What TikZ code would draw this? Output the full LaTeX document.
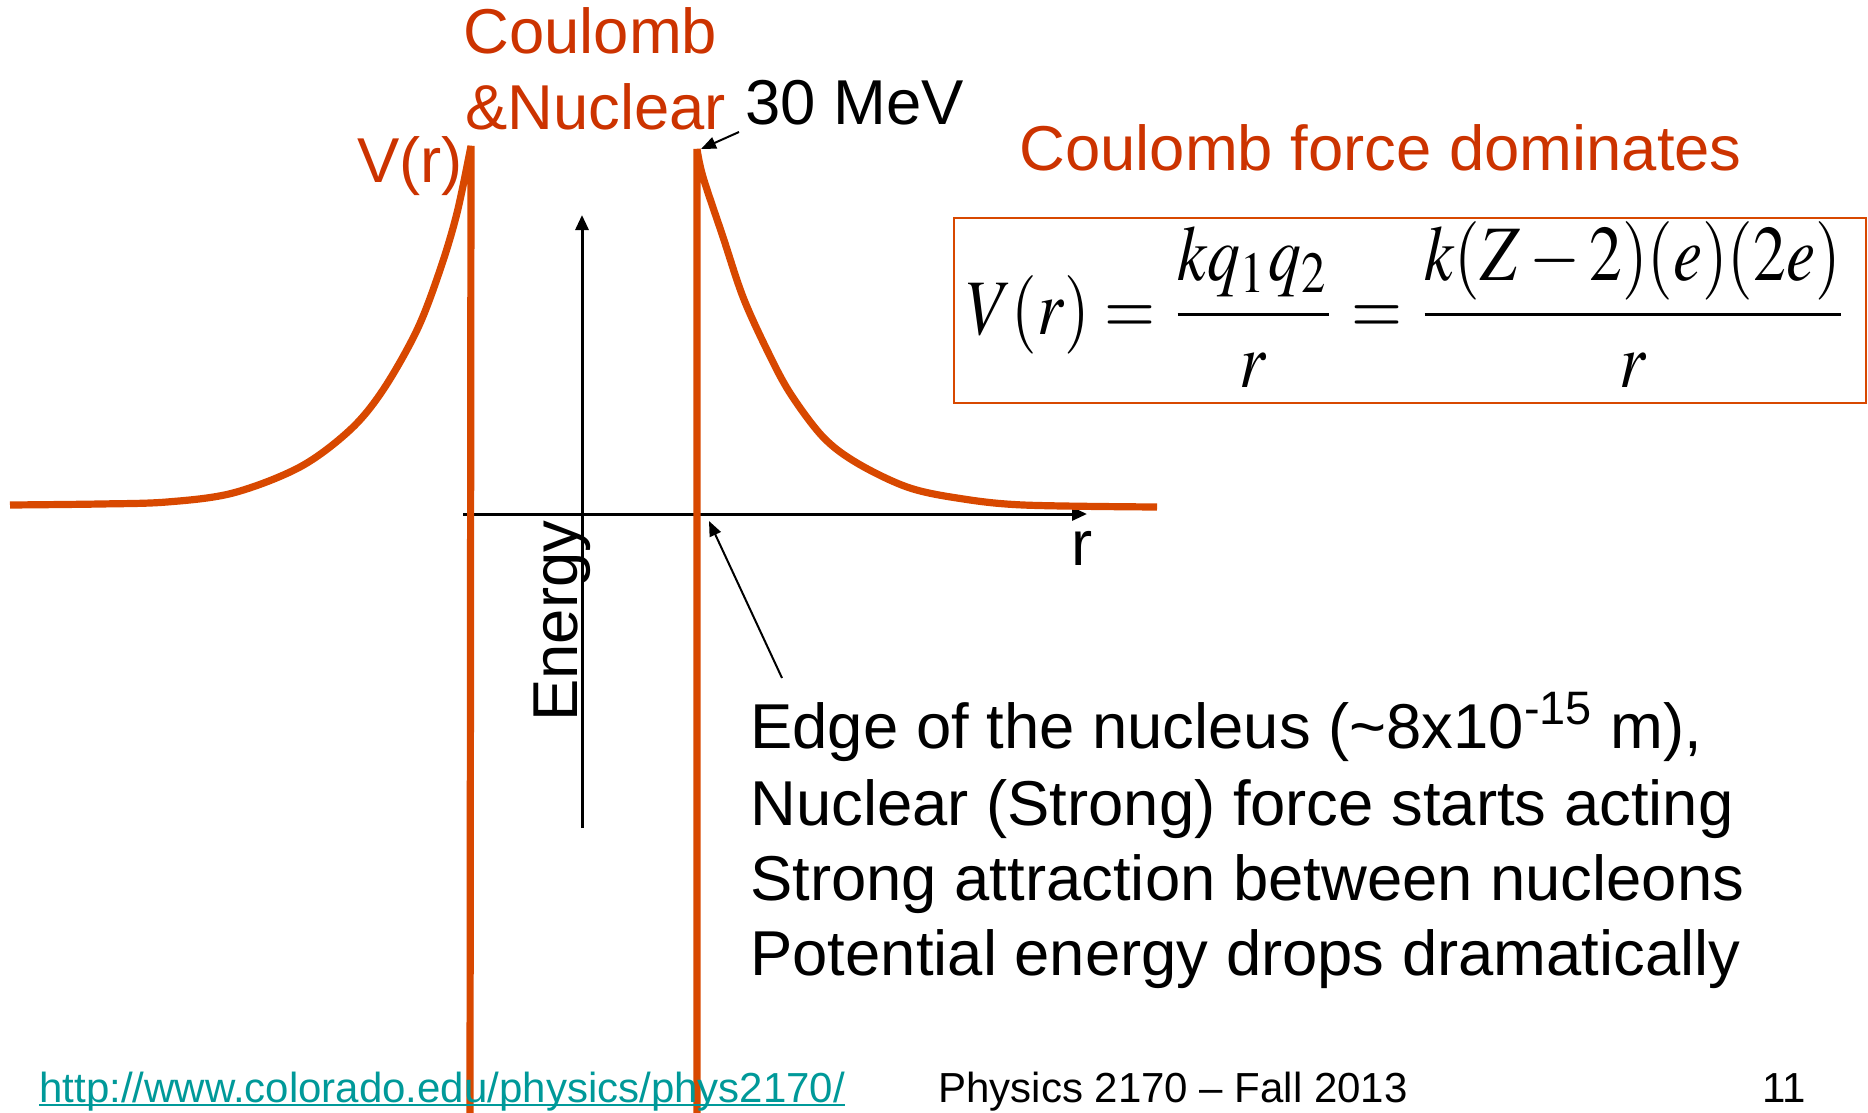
\documentclass[tikz,border=0pt]{standalone}
\usepackage{mathptmx}
\usepackage[no-math]{fontspec}
\setmainfont{Liberation Sans}
\usepackage{graphicx}
\usetikzlibrary{arrows.meta}
\definecolor{curvec}{RGB}{216,72,0}
\definecolor{labelc}{RGB}{204,51,0}
\definecolor{linkc}{RGB}{0,153,153}
\tikzset{
  potcurve/.style={draw=curvec, line width=3.6pt, line join=bevel},
  axisline/.style={draw=black, line width=1.5pt, -{Triangle[length=7.5pt,width=6.5pt]}},
  pointer/.style={draw=black, line width=1pt, -{Triangle[length=7.5pt,width=6pt]}},
  bigtxt/.style={inner sep=0pt, font=\fontsize{31.7}{38}\selectfont},
  redtxt/.style={bigtxt, text=labelc},
  foottxt/.style={inner sep=0pt, font=\fontsize{21}{25}\selectfont},
  eqbox/.style={draw=curvec, line width=1.2pt}
}
\begin{document}
\begin{tikzpicture}[x=0.5pt,y=-0.5pt]
\useasboundingbox (0,0) rectangle (1868,1113);

% coordinates
\coordinate (lpeak) at (471,146);
\coordinate (rpeak) at (697,149);
\coordinate (xaxs) at (463,514);
\coordinate (xaxe) at (1087,514);
\coordinate (yaxs) at (582,828);
\coordinate (yaxe) at (582,215);
\coordinate (mevtail) at (739,132);
\coordinate (mevtip) at (701,149);
\coordinate (edgetail) at (782,678);
\coordinate (edgetip) at (709,521);

% axes
\draw[axisline] (xaxs) -- (xaxe);
\draw[axisline] (yaxs) -- (yaxe);

% potential curve
\draw[potcurve] plot[smooth,tension=0.55] coordinates {(10,505) (100,504) (167,502) (233,493) (300,467) (350,430) (383,390) (417,330) (440,270) (457,213) (471,146)} -- (470,1113);
\draw[potcurve] (697,1113) -- plot[smooth,tension=0.55] coordinates {(697,149) (703,177) (723,237) (743,297) (767,350) (790,393) (823,437) (857,463) (907,487) (957,498) (1023,505) (1157,507)};

% labels
\node[redtxt, anchor=base west] (coul) at (463,54) {Coulomb};
\node[redtxt, anchor=base west] (nucl) at (465,129) {\&Nuclear};
\node[bigtxt, anchor=base west] (mev) at (745,125) {30 MeV};
\node[redtxt, anchor=base west] (vr) at (357,182) {V(r)};
\node[redtxt, anchor=base west] (cfd) at (1019,170) {Coulomb force dominates};
\node[bigtxt, anchor=base west, rotate=90] (energy) at (577,722) {Energy};
\node[bigtxt, anchor=base west] (rlab) at (1071,565) {r};

\draw[pointer] (mevtail) -- (mevtip);
\draw[pointer] (edgetail) -- (edgetip);

% equation box
\draw[eqbox] (954,218) rectangle (1866,403);
\node[inner sep=0pt, anchor=base west] (eq) at (966,334)
  {\resizebox*{441pt}{83pt}{$\displaystyle V(r)=\frac{kq_1q_2}{r}=\frac{k(Z-2)(e)(2e)}{r}$}};

% text block
\node[bigtxt, anchor=base west] (edge1) at (750,748) {Edge of the nucleus (\textasciitilde 8x10\textsuperscript{-15} m),};
\node[bigtxt, anchor=base west] (edge2) at (750,825) {Nuclear (Strong) force starts acting};
\node[bigtxt, anchor=base west] (edge3) at (750,900) {Strong attraction between nucleons};
\node[bigtxt, anchor=base west] (edge4) at (750,975) {Potential energy drops dramatically};

% footer
\node[foottxt, text=linkc, anchor=base west] (url) at (39,1102) {http://www.colorado.edu/physics/phys2170/};
\draw[linkc, line width=1.2pt] ([yshift=-1.6pt]url.base west) -- ([yshift=-1.6pt]url.base east);
\node[foottxt, anchor=base west] (phys) at (938,1102) {Physics 2170 – Fall 2013};
\node[foottxt, anchor=base west] (pnum) at (1762,1102) {11};
\end{tikzpicture}
\end{document}
